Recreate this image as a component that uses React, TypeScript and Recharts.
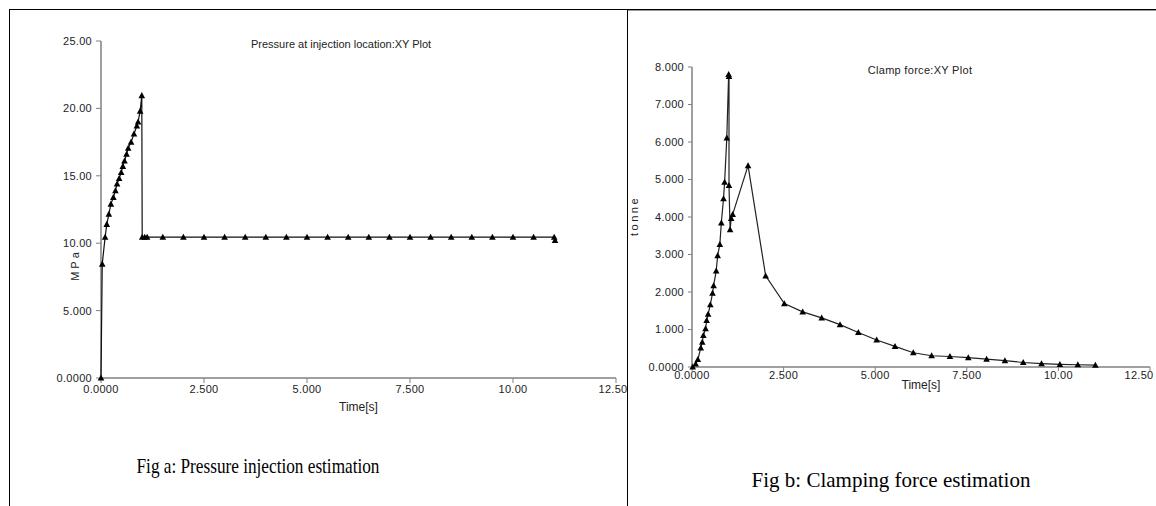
import React from "react";
import { Scatter, ScatterChart, XAxis, YAxis } from "recharts";

// tick values and the labels printed for them
const xTicks = [0, 2.5, 5, 7.5, 10, 12.5];
const xTickLabels = ["0.0000", "2.500", "5.000", "7.500", "10.00", "12.50"];
const pressureTicks = [0, 5, 10, 15, 20, 25];
const pressureTickLabels = ["0.0000", "5.000", "10.00", "15.00", "20.00", "25.00"];
const clampTicks = [0, 1, 2, 3, 4, 5, 6, 7, 8];
const clampTickLabels = ["0.0000", "1.000", "2.000", "3.000", "4.000", "5.000", "6.000", "7.000", "8.000"];

// Fig a: pressure at injection location (MPa) vs time (s)
const pressureTime = [
  0, 0.03, 0.1, 0.14, 0.19, 0.24, 0.3, 0.35, 0.39, 0.44, 0.49, 0.53, 0.57, 0.62, 0.66, 0.73, 0.8, 0.87, 0.9,
  0.95, 0.99, 1.0, 1.06, 1.12, 1.5, 2.0, 2.5, 3.0, 3.5, 4.0, 4.5, 5.0, 5.5, 6.0, 6.5, 7.0, 7.5, 8.0, 8.5, 9.0,
  9.5, 10.0, 10.5, 11.0, 11.02,
];
const pressureMPa = [
  0, 8.45, 10.45, 11.4, 12.15, 12.9, 13.4, 13.9, 14.4, 14.8, 15.25, 15.7, 16.1, 16.6, 17.05, 17.5, 18.1, 18.7,
  19.0, 19.8, 20.95, 10.45, 10.45, 10.45, 10.45, 10.45, 10.45, 10.45, 10.45, 10.45, 10.45, 10.45, 10.45, 10.45,
  10.45, 10.45, 10.45, 10.45, 10.45, 10.45, 10.45, 10.45, 10.45, 10.45, 10.2,
];

// Fig b: clamp force (tonne) vs time (s)
const clampTime = [
  0.02, 0.1, 0.16, 0.24, 0.28, 0.31, 0.37, 0.4, 0.44, 0.5, 0.56, 0.59, 0.66, 0.7, 0.76, 0.8, 0.86, 0.89, 0.95,
  1.0, 1.01, 1.01, 1.04, 1.07, 1.11, 1.53, 2.01, 2.52, 3.02, 3.54, 4.04, 4.54, 5.04, 5.54, 6.04, 6.54, 7.04,
  7.54, 8.04, 8.54, 9.04, 9.54, 10.04, 10.53, 11.01,
];
const clampTonne = [
  0, 0.08, 0.2, 0.51, 0.66, 0.84, 1.02, 1.24, 1.41, 1.66, 1.97, 2.17, 2.56, 2.97, 3.27, 3.84, 4.49, 4.93, 6.11,
  7.8, 7.75, 4.84, 3.66, 3.96, 4.07, 5.37, 2.43, 1.69, 1.47, 1.31, 1.13, 0.92, 0.72, 0.55, 0.38, 0.3, 0.28,
  0.25, 0.21, 0.17, 0.12, 0.09, 0.07, 0.06, 0.05,
];

const pressureData = pressureTime.map((t, i) => ({ x: t, y: pressureMPa[i] }));
const clampData = clampTime.map((t, i) => ({ x: t, y: clampTonne[i] }));

const SANS = "'Liberation Sans', Arial, sans-serif";
const SERIF = "'Liberation Serif', 'Times New Roman', serif";
const AXIS = "#808080";

const label = (ticks: number[], labels: string[]) => (v: number) => labels[ticks.indexOf(v)] ?? String(v);

// small filled triangle, like the simulation package draws
const Triangle = (p: any) => (
  <polygon
    points={`${p.cx},${p.cy - 3.5} ${p.cx + 3.3},${p.cy + 2.6} ${p.cx - 3.3},${p.cy + 2.6}`}
    fill="#000"
  />
);

const tickStyle = { fill: "#222", fontSize: 11, fontFamily: SANS, letterSpacing: 0.3 };

// x tick labels; the last one is pulled in a little so it stays inside the panel
const xTick = (lastShift: number) => (props: any) => {
  const { x, y, payload } = props;
  const last = payload.value === xTicks[xTicks.length - 1];
  return (
    <text
      x={x + (last ? lastShift : 0)}
      y={y}
      dy="0.71em"
      textAnchor="middle"
      fill="#222"
      fontSize={11}
      fontFamily={SANS}
      letterSpacing={0.3}
    >
      {label(xTicks, xTickLabels)(payload.value)}
    </text>
  );
};

function Rule({ x, y, w, h, c = "#000" }: { x: number; y: number; w: number; h: number; c?: string }) {
  return <div style={{ position: "absolute", left: x, top: y, width: w, height: h, background: c }} />;
}

export default function App() {
  return (
    <div
      style={{
        position: "absolute",
        left: 0,
        top: 0,
        width: 1156,
        height: 506,
        background: "#fff",
        overflow: "hidden",
        fontFamily: SANS,
      }}
    >
      {/* table borders */}
      <Rule x={9} y={9} w={1147} h={1} />
      <Rule x={627} y={10} w={529} h={1} c="#999" />
      <Rule x={9} y={9} w={1} h={497} />
      <Rule x={627} y={9} w={1} h={497} />

      {/* Fig a */}
      <div style={{ position: "absolute", left: 9, top: 10 }}>
        <ScatterChart
          width={618}
          height={432}
          margin={{ top: 31, right: 11, bottom: 34, left: 32 }}
          style={{ overflow: "visible" }}
        >
          <XAxis
            type="number"
            dataKey="x"
            domain={[0, 12.5]}
            ticks={xTicks}
            height={30}
            tickSize={5}
            tickMargin={2}
            axisLine={{ stroke: AXIS, strokeWidth: 1.5 }}
            tickLine={{ stroke: AXIS }}
            tick={xTick(-3)}
            interval={0}
            label={{ value: "Time[s]", position: "insideBottom", offset: -3, fill: "#222", fontSize: 12, fontFamily: SANS }}
          />
          <YAxis
            type="number"
            dataKey="y"
            domain={[0, 25]}
            ticks={pressureTicks}
            tickFormatter={label(pressureTicks, pressureTickLabels)}
            width={60}
            tickSize={5}
            tickMargin={4}
            axisLine={{ stroke: AXIS, strokeWidth: 1.5 }}
            tickLine={{ stroke: AXIS }}
            tick={tickStyle}
            interval={0}
          />
          <Scatter
            data={pressureData}
            line={{ stroke: "#111", strokeWidth: 1.2 }}
            shape={Triangle}
            isAnimationActive={false}
          />
        </ScatterChart>
      </div>
      <div style={{ position: "absolute", left: 251, top: 38, fontSize: 11, color: "#222", whiteSpace: "nowrap" }}>
        Pressure at injection location:XY Plot
      </div>
      <div
        style={{
          position: "absolute",
          left: 75,
          top: 265,
          fontSize: 11,
          color: "#222",
          letterSpacing: 3,
          whiteSpace: "nowrap",
          transform: "translate(-50%, -50%) rotate(-90deg)",
        }}
      >
        MPa
      </div>

      {/* Fig b */}
      <div style={{ position: "absolute", left: 628, top: 10 }}>
        <ScatterChart
          width={528}
          height={420}
          margin={{ top: 57, right: 6, bottom: 33, left: 8 }}
          style={{ overflow: "visible" }}
        >
          <XAxis
            type="number"
            dataKey="x"
            domain={[0, 12.5]}
            ticks={xTicks}
            height={30}
            tickSize={4}
            tickMargin={0}
            axisLine={{ stroke: AXIS, strokeWidth: 1.5 }}
            tickLine={{ stroke: AXIS }}
            tick={xTick(-11)}
            interval={0}
            label={{ value: "Time[s]", position: "insideBottom", offset: 8, fill: "#222", fontSize: 12, fontFamily: SANS }}
          />
          <YAxis
            type="number"
            dataKey="y"
            domain={[0, 8]}
            ticks={clampTicks}
            tickFormatter={label(clampTicks, clampTickLabels)}
            width={56}
            tickSize={4}
            tickMargin={4}
            axisLine={{ stroke: AXIS, strokeWidth: 1.5 }}
            tickLine={{ stroke: AXIS }}
            tick={tickStyle}
            interval={0}
          />
          <Scatter
            data={clampData}
            line={{ stroke: "#222", strokeWidth: 1.2 }}
            shape={Triangle}
            isAnimationActive={false}
          />
        </ScatterChart>
      </div>
      <div
        style={{
          position: "absolute",
          left: 920,
          top: 70,
          fontSize: 11,
          color: "#222",
          letterSpacing: 0.3,
          whiteSpace: "nowrap",
          transform: "translate(-50%, -50%)",
        }}
      >
        Clamp force:XY Plot
      </div>
      <div
        style={{
          position: "absolute",
          left: 634,
          top: 216,
          fontSize: 11,
          color: "#222",
          letterSpacing: 2.5,
          whiteSpace: "nowrap",
          transform: "translate(-50%, -50%) rotate(-90deg)",
        }}
      >
        tonne
      </div>

      {/* captions */}
      <div
        style={{
          position: "absolute",
          left: 258,
          top: 466,
          transform: "translate(-50%, -50%) scaleX(0.82)",
          fontFamily: SERIF,
          fontSize: 21,
          whiteSpace: "nowrap",
        }}
      >
        Fig a: Pressure injection estimation
      </div>
      <div
        style={{
          position: "absolute",
          left: 891,
          top: 480,
          transform: "translate(-50%, -50%)",
          fontFamily: SERIF,
          fontSize: 21,
          whiteSpace: "nowrap",
        }}
      >
        Fig b: Clamping force estimation
      </div>
    </div>
  );
}
